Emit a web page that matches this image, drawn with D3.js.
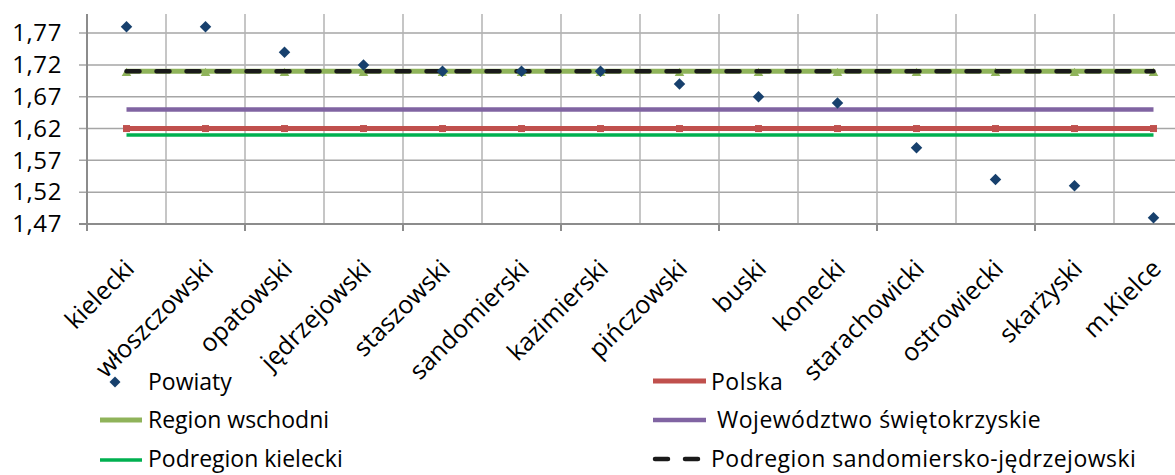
<!DOCTYPE html>
<html>
<head>
<meta charset="utf-8">
<script src="https://cdn.jsdelivr.net/npm/d3@7"></script>
<style>
	body { margin: 0; background: #fff; }
	text { font-family: "Open Sans", sans-serif; fill: #000; }
</style>
</head>
<body>
<div id="chart"></div>
<script>
// categories and values
const categories = ["kielecki", "włoszczowski", "opatowski", "jędrzejowski", "staszowski",
	"sandomierski", "kazimierski", "pińczowski", "buski", "konecki", "starachowicki",
	"ostrowiecki", "skarżyski", "m.Kielce"];
const powiaty = [1.78, 1.78, 1.74, 1.72, 1.71, 1.71, 1.71, 1.69, 1.67, 1.66, 1.59, 1.54, 1.53, 1.48];
const polska = [1.62, 1.62, 1.62, 1.62, 1.62, 1.62, 1.62, 1.62, 1.62, 1.62, 1.62, 1.62, 1.62, 1.62];
const regionWschodni = [1.71, 1.71, 1.71, 1.71, 1.71, 1.71, 1.71, 1.71, 1.71, 1.71, 1.71, 1.71, 1.71, 1.71];
const wojewodztwo = [1.65, 1.65, 1.65, 1.65, 1.65, 1.65, 1.65, 1.65, 1.65, 1.65, 1.65, 1.65, 1.65, 1.65];
const podregionKielecki = [1.61, 1.61, 1.61, 1.61, 1.61, 1.61, 1.61, 1.61, 1.61, 1.61, 1.61, 1.61, 1.61, 1.61];
const podregionSandom = [1.71, 1.71, 1.71, 1.71, 1.71, 1.71, 1.71, 1.71, 1.71, 1.71, 1.71, 1.71, 1.71, 1.71];
const yTicks = [1.47, 1.52, 1.57, 1.62, 1.67, 1.72, 1.77];
const yMin = 1.47, yMax = 1.80;

const width = 1175, height = 475;
const plot = { left: 87, top: 14, bottom: 224, step: 79 };

const svg = d3.select("#chart").append("svg")
	.attr("width", width)
	.attr("height", height);

const x = d3.scaleBand()
	.domain(categories)
	.range([plot.left, plot.left + plot.step * categories.length])
	.padding(0);
const cx = (c) => x(c) + x.bandwidth() / 2;

const y = d3.scaleLinear()
	.domain([yMin, yMax])
	.range([plot.bottom, plot.top]);

// horizontal grid (also acts as outside y ticks)
svg.append("g")
	.selectAll("line")
	.data(yTicks.slice(1))
	.join("line")
	.attr("x1", plot.left - 8).attr("x2", width)
	.attr("y1", (d) => y(d)).attr("y2", (d) => y(d))
	.attr("stroke", "#a6a6a6").attr("stroke-width", 1.5);

// vertical grid at category boundaries
svg.append("g")
	.selectAll("line")
	.data(categories.slice(1))
	.join("line")
	.attr("x1", (d) => x(d)).attr("x2", (d) => x(d))
	.attr("y1", plot.top).attr("y2", plot.bottom)
	.attr("stroke", "#b3b3b3").attr("stroke-width", 1.5);

// y axis
const yAxis = svg.append("g")
	.attr("transform", `translate(${plot.left},0)`)
	.call(d3.axisLeft(y).tickValues(yTicks).tickSize(0).tickPadding(25)
		.tickFormat((d) => d3.format(".2f")(d).replace(".", ",")));
yAxis.select(".domain").remove();
yAxis.selectAll("text").attr("font-size", 24).attr("letter-spacing", 0.6)
	.style("font-family", "'Open Sans', sans-serif");
svg.append("line")
	.attr("x1", plot.left).attr("x2", plot.left)
	.attr("y1", plot.top).attr("y2", plot.bottom + 7)
	.attr("stroke", "#8c8c8c").attr("stroke-width", 2);
svg.append("line")
	.attr("x1", plot.left - 8).attr("x2", plot.left)
	.attr("y1", y(yTicks[0])).attr("y2", y(yTicks[0]))
	.attr("stroke", "#8c8c8c").attr("stroke-width", 2);

// x axis
svg.append("line")
	.attr("x1", plot.left).attr("x2", width)
	.attr("y1", plot.bottom).attr("y2", plot.bottom)
	.attr("stroke", "#8c8c8c").attr("stroke-width", 2);
svg.append("g")
	.selectAll("line")
	.data(categories.filter((d, i) => i % 2 === 0 && i > 0))
	.join("line")
	.attr("x1", (d) => x(d)).attr("x2", (d) => x(d))
	.attr("y1", plot.bottom).attr("y2", plot.bottom + 7)
	.attr("stroke", "#8c8c8c").attr("stroke-width", 2);

svg.append("g")
	.selectAll("text")
	.data(categories)
	.join("text")
	.attr("transform", (d) => `translate(${cx(d) + 3},${plot.bottom + 40}) rotate(-45)`)
	.attr("text-anchor", "end")
	.attr("dy", "0.35em")
	.attr("font-size", 25)
	.text((d) => d);

// line series
const line = d3.line()
	.x((d, i) => cx(categories[i]))
	.y((d) => y(d));

svg.append("path").datum(podregionKielecki)
	.attr("d", line).attr("fill", "none")
	.attr("stroke", "#00b050").attr("stroke-width", 3.5);

svg.append("path").datum(polska)
	.attr("d", line).attr("fill", "none")
	.attr("stroke", "#c0504d").attr("stroke-width", 5);
svg.append("g").selectAll("rect")
	.data(polska)
	.join("rect")
	.attr("x", (d, i) => cx(categories[i]) - 3.5)
	.attr("y", (d) => y(d) - 3.5)
	.attr("width", 7).attr("height", 7)
	.attr("fill", "#c0504d");

svg.append("path").datum(wojewodztwo)
	.attr("d", line).attr("fill", "none")
	.attr("stroke", "#8064a2").attr("stroke-width", 4.5);

svg.append("path").datum(regionWschodni)
	.attr("d", line).attr("fill", "none")
	.attr("stroke", "#8fb35a").attr("stroke-width", 5);
svg.append("g").selectAll("path")
	.data(regionWschodni)
	.join("path")
	.attr("d", d3.symbol(d3.symbolTriangle, 40))
	.attr("transform", (d, i) => `translate(${cx(categories[i])},${y(d) + 2})`)
	.attr("fill", "#8fb35a");

svg.append("path").datum(podregionSandom)
	.attr("d", line).attr("fill", "none")
	.attr("stroke", "#1a1a1a").attr("stroke-width", 4.5)
	.attr("stroke-linecap", "round")
	.attr("stroke-dasharray", "13,17");

// Powiaty markers
svg.append("g").selectAll("path")
	.data(powiaty)
	.join("path")
	.attr("d", d3.symbol(d3.symbolSquare, 66))
	.attr("transform", (d, i) => `translate(${cx(categories[i])},${y(d)}) rotate(45)`)
	.attr("fill", "#17406d");

// legend
const legend = svg.append("g").attr("font-size", 23);
legend.append("path")
	.attr("d", d3.symbol(d3.symbolSquare, 60))
	.attr("transform", "translate(115,382) rotate(45)")
	.attr("fill", "#17406d");
legend.append("text").attr("x", 148).attr("y", 390).text("Powiaty");

legend.append("line").attr("x1", 100).attr("x2", 142).attr("y1", 420).attr("y2", 420)
	.attr("stroke", "#8fb35a").attr("stroke-width", 5);
legend.append("text").attr("x", 148).attr("y", 428).text("Region wschodni");

legend.append("line").attr("x1", 100).attr("x2", 142).attr("y1", 460).attr("y2", 460)
	.attr("stroke", "#00b050").attr("stroke-width", 3.5);
legend.append("text").attr("x", 148).attr("y", 467).text("Podregion kielecki");

const legendRight = legend.append("g").attr("letter-spacing", 0.5);
legendRight.append("line").attr("x1", 653).attr("x2", 706).attr("y1", 381).attr("y2", 381)
	.attr("stroke", "#c0504d").attr("stroke-width", 5);
legendRight.append("text").attr("x", 711).attr("y", 390).text("Polska");

legendRight.append("line").attr("x1", 653).attr("x2", 706).attr("y1", 420).attr("y2", 420)
	.attr("stroke", "#8064a2").attr("stroke-width", 4.5);
legendRight.append("text").attr("x", 717).attr("y", 428).text("Województwo świętokrzyskie");

legendRight.append("line").attr("x1", 655).attr("x2", 701).attr("y1", 459).attr("y2", 459)
	.attr("stroke", "#1a1a1a").attr("stroke-width", 4.5)
	.attr("stroke-linecap", "round")
	.attr("stroke-dasharray", "13,17");
legendRight.append("text").attr("x", 711).attr("y", 467).text("Podregion sandomiersko-jędrzejowski");
</script>
</body>
</html>
